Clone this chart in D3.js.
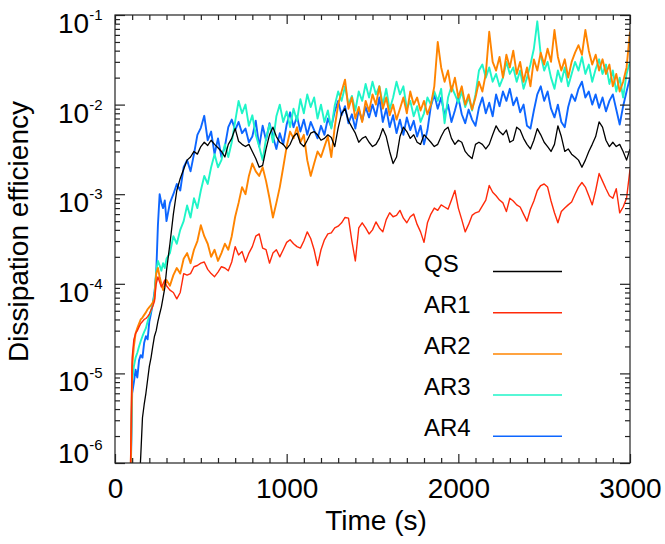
<!DOCTYPE html>
<html>
<head>
<meta charset="utf-8">
<script src="https://cdn.jsdelivr.net/npm/d3@7"></script>
<style>
  html, body { margin: 0; padding: 0; background: #fff; }
  svg { display: block; font-family: "Liberation Sans", Arial, Helvetica, sans-serif; }
</style>
</head>
<body>
<svg id="chart" width="665" height="544"></svg>
<script>
// sample times (s): every 10 s during the onset, every 20 s afterwards
const time = d3.range(80, 300, 10).concat(d3.range(300, 3001, 20));

// dissipation efficiency (null = not yet started)
const qs = [
  null, null, null, null, null, null, 5e-7, 1.2e-6, 3.2e-6, 4.5e-6, 6e-6, 8.5e-6, 1.2e-5, 1.5e-5, 2.0e-5, 2.6e-5, 3.0e-5, 3.8e-5, 4.6e-5, 5.5e-5, 7.0e-5, 9.0e-5, 1.4e-4,
  2.8e-4, 6.0e-4, 1.1e-3, 1.5e-3, 1.9e-3, 2.4e-3, 2.6e-3, 3.0e-3, 2.8e-3, 3.4e-3,
  3.8e-3, 3.5e-3, 4.0e-3, 3.6e-3, 3.3e-3, 3.0e-3, 2.6e-3, 3.6e-3, 4.2e-3, 5.4e-3,
  3.9e-3, 3.6e-3, 3.4e-3, 3.6e-3, 3.0e-3, 2.5e-3, 2.0e-3, 2.1e-3, 3.2e-3, 4.6e-3,
  5.6e-3, 4.4e-3, 3.8e-3, 3.6e-3, 3.2e-3, 3.6e-3, 4.4e-3, 4.8e-3, 3.7e-3, 3.4e-3,
  4.0e-3, 4.8e-3, 5.0e-3, 4.6e-3, 4.0e-3, 4.2e-3, 4.6e-3, 4.3e-3, 3.4e-3, 5.5e-3,
  8.0e-3, 9.0e-3, 6.6e-3, 5.6e-3, 4.8e-3, 3.8e-3, 4.2e-3, 4.4e-3, 3.8e-3, 3.4e-3,
  3.6e-3, 4.2e-3, 5.4e-3, 4.4e-3, 3.0e-3, 2.2e-3, 2.6e-3, 4.4e-3, 5.6e-3, 5.0e-3,
  4.2e-3, 4.6e-3, 3.8e-3, 3.6e-3, 4.6e-3, 4.2e-3, 3.8e-3, 3.4e-3, 3.6e-3, 4.4e-3,
  5.2e-3, 5.6e-3, 4.2e-3, 3.6e-3, 4.0e-3, 3.8e-3, 3.0e-3, 2.7e-3, 2.5e-3, 3.6e-3,
  3.8e-3, 3.6e-3, 3.2e-3, 3.6e-3, 4.6e-3, 5.8e-3, 5.0e-3, 4.6e-3, 5.2e-3, 3.8e-3,
  4.0e-3, 5.6e-3, 5.2e-3, 4.2e-3, 3.6e-3, 3.2e-3, 4.0e-3, 5.4e-3, 4.6e-3, 3.8e-3,
  3.4e-3, 3.0e-3, 3.6e-3, 5.8e-3, 4.4e-3, 3.0e-3, 3.2e-3, 2.8e-3, 2.6e-3, 2.4e-3,
  2.0e-3, 2.4e-3, 3.0e-3, 3.6e-3, 4.4e-3, 6.4e-3, 5.6e-3, 4.0e-3, 3.4e-3, 3.8e-3,
  3.4e-3, 3.6e-3, 3.0e-3, 2.4e-3, 3.2e-3
];

const ar1 = [
  null, 8e-7, 1.5e-5, 2.4e-5, 2.8e-5, 3.0e-5, 3.3e-5, 3.6e-5, 3.8e-5, 4.0e-5, 4.1e-5, 4.3e-5, 4.6e-5, 5.1e-5, 5.6e-5, 6.4e-5, 1.0e-4, 1.19e-4, 1.05e-4, 9.2e-5, 1.0e-4, 1.1e-4, 9.5e-5,
  8.5e-5, 8.0e-5, 6.8e-5, 8.0e-5, 1.3e-4, 1.25e-4, 1.3e-4, 1.55e-4, 1.6e-4, 1.7e-4,
  1.75e-4, 1.45e-4, 1.3e-4, 1.2e-4, 1.35e-4, 1.55e-4, 1.5e-4, 1.4e-4, 1.75e-4, 2.6e-4,
  2.1e-4, 2.3e-4, 1.75e-4, 2.2e-4, 2.6e-4, 3.4e-4, 3.6e-4, 2.5e-4, 2.4e-4, 1.7e-4,
  2.2e-4, 2.4e-4, 2.0e-4, 2.4e-4, 2.9e-4, 3.1e-4, 2.8e-4, 2.6e-4, 2.5e-4, 3.0e-4,
  3.8e-4, 3.2e-4, 2.4e-4, 1.6e-4, 2.4e-4, 3.1e-4, 3.6e-4, 3.7e-4, 4.2e-4, 4.4e-4,
  4.8e-4, 5.5e-4, 5.4e-4, 3.0e-4, 1.8e-4, 4.2e-4, 4.8e-4, 4.2e-4, 3.6e-4, 4.0e-4,
  4.9e-4, 4.2e-4, 3.8e-4, 5.2e-4, 6.2e-4, 5.6e-4, 5.8e-4, 6.6e-4, 5.4e-4, 4.8e-4,
  5.6e-4, 6.0e-4, 4.6e-4, 3.8e-4, 2.9e-4, 4.8e-4, 6.0e-4, 7.0e-4, 6.6e-4, 7.6e-4,
  7.2e-4, 6.8e-4, 8.6e-4, 1.1e-3, 7.0e-4, 5.2e-4, 3.8e-4, 4.6e-4, 5.8e-4, 6.2e-4,
  6.4e-4, 7.4e-4, 8.6e-4, 1.25e-3, 1.05e-3, 9.6e-4, 8.6e-4, 8.0e-4, 6.4e-4, 9.0e-4,
  8.4e-4, 7.6e-4, 7.2e-4, 6.0e-4, 5.0e-4, 6.8e-4, 8.4e-4, 1.1e-3, 1.25e-3, 1.3e-3,
  1.2e-3, 8.4e-4, 6.2e-4, 4.8e-4, 6.4e-4, 7.0e-4, 7.6e-4, 8.2e-4, 1.0e-3, 1.2e-3,
  1.35e-3, 1.2e-3, 9.6e-4, 7.6e-4, 1.1e-3, 1.7e-3, 1.4e-3, 1.15e-3, 9.6e-4, 9.0e-4,
  1.15e-3, 6.2e-4, 7.2e-4, 9.0e-4, 1.9e-3
];

const ar2 = [
  null, 5e-7, 1.2e-5, 2.0e-5, 2.8e-5, 3.2e-5, 3.6e-5, 4.0e-5, 4.2e-5, 4.5e-5, 4.8e-5, 5.2e-5, 5.5e-5, 5.8e-5, 6.2e-5, 6.8e-5, 1.3e-4, 1.5e-4, 1.2e-4, 1.0e-4, 8.5e-5, 1.0e-4, 1.1e-4,
  9.5e-5, 1.25e-4, 1.5e-4, 1.3e-4, 1.9e-4, 2.2e-4, 1.7e-4, 2.4e-4, 3.0e-4, 4.5e-4,
  3.4e-4, 2.8e-4, 2.0e-4, 2.4e-4, 1.8e-4, 2.2e-4, 2.8e-4, 2.4e-4, 3.4e-4, 5.6e-4,
  8.0e-4, 1.2e-3, 1.0e-3, 1.6e-3, 2.2e-3, 1.8e-3, 1.6e-3, 2.0e-3, 1.4e-3, 9.0e-4,
  5.5e-4, 8.0e-4, 1.2e-3, 2.0e-3, 3.4e-3, 5.0e-3, 4.2e-3, 5.6e-3, 3.8e-3, 4.6e-3,
  2.4e-3, 1.6e-3, 2.2e-3, 3.0e-3, 2.6e-3, 3.4e-3, 4.4e-3, 2.6e-3, 5.6e-3, 1.0e-2,
  1.4e-2, 1.9e-2, 9.0e-3, 1.2e-2, 7.0e-3, 9.4e-3, 6.4e-3, 1.1e-2, 8.4e-3, 1.3e-2,
  1.0e-2, 1.6e-2, 9.0e-3, 1.2e-2, 7.6e-3, 1.0e-2, 6.8e-3, 9.0e-3, 1.2e-2, 8.0e-3,
  1.4e-2, 1.0e-2, 1.2e-2, 8.6e-3, 1.1e-2, 7.8e-3, 1.0e-2, 1.6e-2, 5.0e-2, 2.6e-2,
  1.8e-2, 2.4e-2, 1.4e-2, 2.0e-2, 1.2e-2, 1.6e-2, 1.0e-2, 1.3e-2, 8.8e-3, 1.2e-2,
  1.8e-2, 1.4e-2, 2.2e-2, 6.5e-2, 3.0e-2, 2.4e-2, 3.4e-2, 2.0e-2, 3.6e-2, 2.6e-2,
  4.0e-2, 2.2e-2, 3.0e-2, 1.8e-2, 2.6e-2, 1.6e-2, 3.2e-2, 2.4e-2, 3.8e-2, 2.8e-2,
  4.2e-2, 3.0e-2, 6.8e-2, 3.4e-2, 2.4e-2, 3.2e-2, 2.0e-2, 3.0e-2, 3.8e-2, 4.6e-2,
  3.6e-2, 6.8e-2, 4.0e-2, 2.8e-2, 3.6e-2, 2.4e-2, 3.2e-2, 2.2e-2, 2.8e-2, 1.6e-2,
  2.2e-2, 1.4e-2, 1.8e-2, 2.6e-2, 6.5e-2
];

const ar3 = [
  null, 5e-7, 8e-6, 1.2e-5, 1.5e-5, 1.7e-5, 2.0e-5, 2.3e-5, 2.6e-5, 2.9e-5, 3.2e-5, 3.8e-5, 4.4e-5, 5.0e-5, 6.0e-5, 7.5e-5, 1.4e-4, 1.8e-4, 1.6e-4, 1.4e-4, 1.7e-4, 1.5e-4, 1.9e-4,
  2.2e-4, 3.4e-4, 2.8e-4, 4.0e-4, 5.0e-4, 7.5e-4, 5.5e-4, 9.0e-4, 7.0e-4, 1.1e-3,
  1.6e-3, 1.3e-3, 2.0e-3, 2.8e-3, 2.0e-3, 2.4e-3, 3.6e-3, 2.6e-3, 3.8e-3, 6.5e-3,
  1.1e-2, 8.0e-3, 1.0e-2, 5.8e-3, 7.6e-3, 4.6e-3, 3.4e-3, 2.4e-3, 4.2e-3, 6.0e-3,
  3.8e-3, 7.4e-3, 1.0e-2, 6.4e-3, 8.4e-3, 5.6e-3, 9.0e-3, 6.6e-3, 1.15e-2, 8.0e-3,
  1.3e-2, 9.4e-3, 1.2e-2, 7.0e-3, 1.0e-2, 6.4e-3, 8.6e-3, 5.4e-3, 9.8e-3, 1.4e-2,
  1.1e-2, 1.6e-2, 1.0e-2, 1.25e-2, 8.6e-3, 1.4e-2, 1.1e-2, 1.7e-2, 1.2e-2, 1.8e-2,
  1.3e-2, 1.6e-2, 1.0e-2, 1.5e-2, 8.8e-3, 1.2e-2, 1.8e-2, 1.3e-2, 1.6e-2, 9.0e-3,
  1.1e-2, 7.4e-3, 9.6e-3, 6.4e-3, 8.0e-3, 1.2e-2, 1.0e-2, 1.4e-2, 1.1e-2, 1.5e-2,
  6.2e-3, 1.2e-2, 1.6e-2, 1.3e-2, 1.05e-2, 1.4e-2, 9.4e-3, 1.2e-2, 8.6e-3, 1.3e-2,
  2.4e-2, 2.8e-2, 2.0e-2, 2.6e-2, 1.8e-2, 2.2e-2, 1.6e-2, 2.0e-2, 3.0e-2, 2.2e-2,
  2.6e-2, 1.8e-2, 2.4e-2, 1.5e-2, 2.0e-2, 2.8e-2, 4.2e-2, 8.5e-2, 3.6e-2, 2.4e-2,
  3.0e-2, 2.0e-2, 1.5e-2, 2.4e-2, 1.8e-2, 2.6e-2, 1.6e-2, 2.2e-2, 3.0e-2, 2.4e-2,
  3.4e-2, 2.2e-2, 2.8e-2, 1.8e-2, 2.5e-2, 3.2e-2, 2.2e-2, 2.8e-2, 1.7e-2, 2.4e-2,
  1.4e-2, 2.0e-2, 1.2e-2, 2.2e-2, 3.0e-2
];

const ar4 = [
  null, 5e-7, 6e-6, 8e-6, 1.1e-5, 9e-6, 1.4e-5, 1.6e-5, 1.5e-5, 2.2e-5, 2.6e-5, 2.4e-5, 3.8e-5, 4.7e-5, 6.0e-5, 8.0e-5, 1.3e-4, 4.5e-4, 1.0e-3, 8.0e-4, 7.0e-4, 8.5e-4, 5.0e-4,
  8.0e-4, 1.0e-3, 1.3e-3, 1.1e-3, 2.0e-3, 2.4e-3, 1.8e-3, 2.8e-3, 4.6e-3, 5.5e-3,
  7.5e-3, 4.0e-3, 5.0e-3, 2.8e-3, 4.2e-3, 2.6e-3, 3.4e-3, 5.6e-3, 6.8e-3, 5.2e-3,
  6.4e-3, 4.8e-3, 5.4e-3, 3.8e-3, 4.4e-3, 6.6e-3, 3.4e-3, 5.8e-3, 4.0e-3, 6.2e-3,
  4.4e-3, 3.2e-3, 4.8e-3, 3.6e-3, 6.0e-3, 8.2e-3, 5.6e-3, 7.4e-3, 5.0e-3, 6.8e-3,
  4.6e-3, 6.4e-3, 5.2e-3, 4.2e-3, 5.8e-3, 4.6e-3, 7.0e-3, 5.6e-3, 8.4e-3, 1.1e-2,
  7.6e-3, 9.6e-3, 6.2e-3, 7.8e-3, 5.4e-3, 8.8e-3, 6.6e-3, 9.4e-3, 7.2e-3, 1.0e-2,
  7.4e-3, 1.2e-2, 6.4e-3, 9.0e-3, 5.6e-3, 7.6e-3, 4.8e-3, 6.8e-3, 4.6e-3, 7.2e-3,
  5.2e-3, 6.6e-3, 4.4e-3, 5.8e-3, 3.6e-3, 5.2e-3, 9.6e-3, 1.3e-2, 9.0e-3, 1.2e-2,
  7.6e-3, 1.0e-2, 6.4e-3, 8.6e-3, 1.2e-2, 7.8e-3, 6.2e-3, 8.8e-3, 6.8e-3, 5.8e-3,
  9.2e-3, 1.2e-2, 8.0e-3, 1.05e-2, 7.4e-3, 1.3e-2, 9.6e-3, 1.4e-2, 1.1e-2, 1.5e-2,
  9.8e-3, 1.2e-2, 8.2e-3, 1.0e-2, 5.8e-3, 5.4e-3, 8.6e-3, 1.3e-2, 1.6e-2, 1.1e-2,
  1.4e-2, 9.0e-3, 7.2e-3, 1.0e-2, 6.4e-3, 5.6e-3, 9.4e-3, 1.3e-2, 1.1e-2, 1.5e-2,
  1.8e-2, 1.2e-2, 1.4e-2, 1.0e-2, 1.3e-2, 9.2e-3, 1.2e-2, 8.4e-3, 1.1e-2, 1.3e-2,
  8.8e-3, 6.0e-3, 9.6e-3, 1.4e-2, 2.0e-2
];

const seriesNames = ["QS", "AR1", "AR2", "AR3", "AR4"];
const seriesValues = [qs, ar1, ar2, ar3, ar4];
const seriesColors = ["#000000", "#ff2a0a", "#ff8400", "#1ff5c8", "#0d66ff"];
const seriesWidths = [1.3, 1.4, 1.9, 1.9, 1.9];

const xTicks = [0, 1000, 2000, 3000];
const yExponents = [-1, -2, -3, -4, -5, -6];

const svg = d3.select("#chart");
const pLeft = 115, pRight = 630, pTop = 15, pBottom = 463;

const x = d3.scaleLinear().domain([0, 3000]).range([pLeft, pRight]);
const y = d3.scaleLog().domain([1e-6, 1e-1]).range([pBottom, pTop]);

seriesValues.forEach((s, i) => {
  if (s.length !== time.length) console.error(seriesNames[i], s.length, time.length);
});

svg.append("rect").attr("width", 665).attr("height", 544).attr("fill", "#fff");

svg.append("clipPath").attr("id", "plotclip")
  .append("rect")
  .attr("x", pLeft).attr("y", pTop)
  .attr("width", pRight - pLeft).attr("height", pBottom - pTop);

const line = d3.line()
  .defined(d => d.v != null)
  .x(d => x(d.t))
  .y(d => y(d.v));

// draw AR4 first so QS ends up on top
const plot = svg.append("g").attr("clip-path", "url(#plotclip)");
for (let i = seriesNames.length - 1; i >= 0; i--) {
  const pts = time.map((t, k) => ({ t: t, v: seriesValues[i][k] }));
  plot.append("path")
    .datum(pts)
    .attr("fill", "none")
    .attr("stroke", seriesColors[i])
    .attr("stroke-width", seriesWidths[i])
    .attr("stroke-linejoin", "round")
    .attr("d", line);
}

// tick positions
const xMinor = d3.range(0, 3001, 100).filter(v => v % 1000 !== 0);
const yMinor = [];
for (let e = -6; e <= -2; e++) {
  for (let m = 2; m <= 9; m++) yMinor.push(m * Math.pow(10, e));
}
const yMajor = yExponents.map(e => Math.pow(10, e));

function styleAxis(g) {
  g.select(".domain").remove();
  g.selectAll(".tick line").attr("stroke", "#222").attr("stroke-width", 1.2);
}

svg.append("g").attr("transform", `translate(0,${pBottom})`)
  .call(d3.axisBottom(x).tickValues(xMinor).tickSize(-5).tickFormat(""))
  .call(styleAxis);
svg.append("g").attr("transform", `translate(0,${pBottom})`)
  .call(d3.axisBottom(x).tickValues(xTicks).tickSize(-9).tickPadding(15).tickFormat(d3.format("d")))
  .call(styleAxis)
  .selectAll("text")
  .attr("fill", "#000")
  .attr("font-size", 28)
  .attr("font-family", "Liberation Sans, Arial, sans-serif");

svg.append("g").attr("transform", `translate(0,${pTop})`)
  .call(d3.axisTop(x).tickValues(xMinor).tickSize(-5).tickFormat(""))
  .call(styleAxis);
svg.append("g").attr("transform", `translate(0,${pTop})`)
  .call(d3.axisTop(x).tickValues(xTicks).tickSize(-9).tickFormat(""))
  .call(styleAxis);

svg.append("g").attr("transform", `translate(${pLeft},0)`)
  .call(d3.axisLeft(y).tickValues(yMinor).tickSize(-5).tickFormat(""))
  .call(styleAxis);
svg.append("g").attr("transform", `translate(${pLeft},0)`)
  .call(d3.axisLeft(y).tickValues(yMajor).tickSize(-10).tickFormat(""))
  .call(styleAxis);
svg.append("g").attr("transform", `translate(${pRight},0)`)
  .call(d3.axisRight(y).tickValues(yMinor).tickSize(-5).tickFormat(""))
  .call(styleAxis);
svg.append("g").attr("transform", `translate(${pRight},0)`)
  .call(d3.axisRight(y).tickValues(yMajor).tickSize(-10).tickFormat(""))
  .call(styleAxis);

// y tick labels as 10^n
const yLab = svg.append("g").attr("font-size", 28).attr("fill", "#000");
yExponents.forEach(e => {
  const base = e === -6 ? y(Math.pow(10, e)) : y(Math.pow(10, e)) + 18;
  const t = yLab.append("text")
    .attr("x", 102.5)
    .attr("y", base)
    .attr("text-anchor", "end");
  t.append("tspan").text("10");
  t.append("tspan").attr("font-size", 15).attr("dy", -13).text(String(e));
});

// frame
svg.append("rect")
  .attr("x", pLeft).attr("y", pTop)
  .attr("width", pRight - pLeft).attr("height", pBottom - pTop)
  .attr("fill", "none")
  .attr("stroke", "#222")
  .attr("stroke-width", 1.2);

// axis titles
svg.append("text")
  .attr("x", 376).attr("y", 530)
  .attr("text-anchor", "middle")
  .attr("font-size", 28)
  .text("Time (s)");

svg.append("text")
  .attr("transform", "translate(28,231.5) rotate(-90)")
  .attr("text-anchor", "middle")
  .attr("font-size", 28)
  .text("Dissipation efficiency");

// legend
const legend = svg.append("g");
seriesNames.forEach((name, i) => {
  const ly = 271.5 + i * 41.2;
  legend.append("text")
    .attr("x", 424).attr("y", ly)
    .attr("font-size", 24)
    .text(name);
  legend.append("line")
    .attr("x1", 493).attr("x2", 562)
    .attr("y1", ly).attr("y2", ly)
    .attr("stroke", seriesColors[i])
    .attr("stroke-width", 1.5);
});
</script>
</body>
</html>
